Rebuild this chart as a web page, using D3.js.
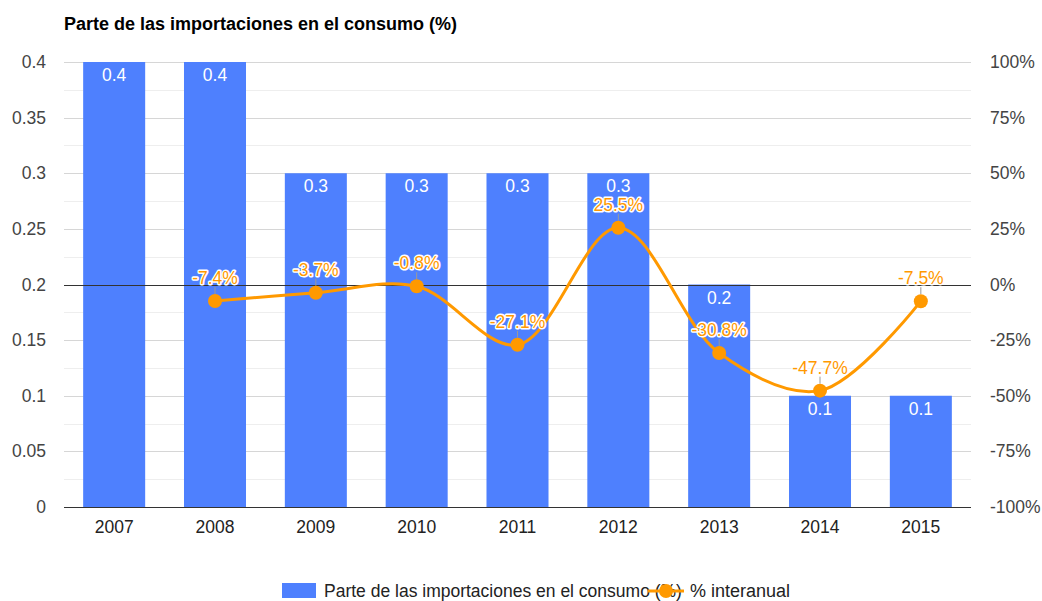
<!DOCTYPE html>
<html>
<head>
<meta charset="utf-8">
<script src="https://cdn.jsdelivr.net/npm/d3@7"></script>
<style>
  body { margin: 0; background: #fff; }
  text { font-family: Arial, "Liberation Sans", sans-serif; }
</style>
</head>
<body>
<div class="chart"></div>
<script>
// Parte de las importaciones en el consumo - bars + interannual % line
var years = ["2007", "2008", "2009", "2010", "2011", "2012", "2013", "2014", "2015"];
var share = [0.4, 0.4, 0.3, 0.3, 0.3, 0.3, 0.2, 0.1, 0.1];
var interanual = [null, -7.4, -3.7, -0.8, -27.1, 25.5, -30.8, -47.7, -7.5];
var leftTicks = [0, 0.05, 0.1, 0.15, 0.2, 0.25, 0.3, 0.35, 0.4];
var rightTicks = [-100, -75, -50, -25, 0, 25, 50, 75, 100];

var svgWidth = 1042;
var svgHeight = 601;
var margin = { top: 62, right: 71, bottom: 94, left: 64 };
var width = svgWidth - margin.left - margin.right;
var height = svgHeight - margin.top - margin.bottom;

var blue = "#4e80fe";
var orange = "#ff9900";
var fs = "17.5px";

var svg = d3.select(".chart")
  .append("svg")
  .attr("width", svgWidth)
  .attr("height", svgHeight);

svg.append("text")
  .attr("x", 64)
  .attr("y", 30)
  .style("font-size", "18px")
  .style("font-weight", "bold")
  .attr("fill", "#000")
  .text("Parte de las importaciones en el consumo (%)");

var chartGroup = svg.append("g")
  .attr("transform", `translate(${margin.left}, ${margin.top})`);

var x = d3.scaleBand().domain(years).range([0, width]).paddingInner(0.385).paddingOuter(0.19);
var yLeft = d3.scaleLinear().domain([0, 0.4]).range([height, 0]);
var yRight = d3.scaleLinear().domain([-100, 100]).range([height, 0]);

// minor gridlines
var minor = d3.range(0.025, 0.4, 0.05);
chartGroup.selectAll(".minor")
  .data(minor)
  .enter()
  .append("line")
  .attr("x1", 0).attr("x2", width)
  .attr("y1", d => Math.round(yLeft(d)) + 0.5)
  .attr("y2", d => Math.round(yLeft(d)) + 0.5)
  .attr("stroke", "#eeeeee");

// major gridlines
chartGroup.selectAll(".major")
  .data(leftTicks.slice(1))
  .enter()
  .append("line")
  .attr("x1", 0).attr("x2", width)
  .attr("y1", d => Math.round(yLeft(d)) + 0.5)
  .attr("y2", d => Math.round(yLeft(d)) + 0.5)
  .attr("stroke", "#d6d6d6");

// left axis labels
chartGroup.append("g")
  .call(d3.axisLeft(yLeft).tickValues(leftTicks).tickSize(0).tickPadding(18).tickFormat(d => d3.format("")(+d.toFixed(2))))
  .call(g => g.select(".domain").remove())
  .selectAll("text")
  .style("font-size", fs)
  .attr("fill", "#444");

// right axis labels
chartGroup.append("g")
  .attr("transform", `translate(${width}, 0)`)
  .call(d3.axisRight(yRight).tickValues(rightTicks).tickSize(0).tickPadding(19).tickFormat(d => d + "%"))
  .call(g => g.select(".domain").remove())
  .selectAll("text")
  .style("font-size", fs)
  .attr("fill", "#444");

// bars
chartGroup.selectAll(".bar")
  .data(years)
  .enter()
  .append("rect")
  .attr("x", d => x(d))
  .attr("width", x.bandwidth())
  .attr("y", (d, i) => yLeft(share[i]))
  .attr("height", (d, i) => height - yLeft(share[i]))
  .attr("fill", blue);

// bar labels
chartGroup.selectAll(".barLabel")
  .data(years)
  .enter()
  .append("text")
  .attr("x", d => x(d) + x.bandwidth() / 2)
  .attr("y", (d, i) => yLeft(share[i]) + 19)
  .attr("text-anchor", "middle")
  .style("font-size", fs)
  .attr("fill", "#fff")
  .text((d, i) => share[i]);

// baseline + zero line
chartGroup.append("line")
  .attr("x1", 0).attr("x2", width)
  .attr("y1", height + 0.5).attr("y2", height + 0.5)
  .attr("stroke", "#333");
chartGroup.append("line")
  .attr("x1", 0).attr("x2", width)
  .attr("y1", Math.round(yRight(0)) + 0.5).attr("y2", Math.round(yRight(0)) + 0.5)
  .attr("stroke", "#333");

// x axis labels
chartGroup.append("g")
  .attr("transform", `translate(0, ${height})`)
  .call(d3.axisBottom(x).tickSize(0).tickPadding(14))
  .call(g => g.select(".domain").remove())
  .selectAll("text")
  .style("font-size", fs)
  .attr("fill", "#222");

// line series
var pts = years.map((d, i) => ({ year: d, v: interanual[i] })).filter(d => d.v !== null);

var line = d3.line()
  .x(d => x(d.year) + x.bandwidth() / 2)
  .y(d => yRight(d.v))
  .curve(d3.curveCatmullRom.alpha(0.5));

chartGroup.append("path")
  .datum(pts)
  .attr("d", line)
  .attr("fill", "none")
  .attr("stroke", orange)
  .attr("stroke-width", 3);

// leader lines
chartGroup.selectAll(".leader")
  .data(pts)
  .enter()
  .append("line")
  .attr("x1", d => x(d.year) + x.bandwidth() / 2)
  .attr("x2", d => x(d.year) + x.bandwidth() / 2)
  .attr("y1", d => yRight(d.v) - 7)
  .attr("y2", d => yRight(d.v) - 14)
  .attr("stroke", "#999")
  .attr("stroke-width", 1);

chartGroup.selectAll(".dot")
  .data(pts)
  .enter()
  .append("circle")
  .attr("cx", d => x(d.year) + x.bandwidth() / 2)
  .attr("cy", d => yRight(d.v))
  .attr("r", 7)
  .attr("fill", orange);

// line labels with white halo
chartGroup.selectAll(".lineLabel")
  .data(pts)
  .enter()
  .append("text")
  .attr("x", d => x(d.year) + x.bandwidth() / 2)
  .attr("y", d => yRight(d.v) - 17)
  .attr("text-anchor", "middle")
  .style("font-size", fs)
  .attr("fill", orange)
  .attr("stroke", "#fff")
  .attr("stroke-width", 3)
  .attr("paint-order", "stroke")
  .attr("stroke-linejoin", "round")
  .text(d => d.v.toFixed(1) + "%");

// legend
var legend = svg.append("g");
legend.append("rect")
  .attr("x", 282).attr("y", 583)
  .attr("width", 34).attr("height", 15)
  .attr("fill", blue);
legend.append("text")
  .attr("x", 324).attr("y", 597)
  .style("font-size", fs)
  .attr("fill", "#222")
  .text("Parte de las importaciones en el consumo (%)");
legend.append("line")
  .attr("x1", 648).attr("x2", 684)
  .attr("y1", 591).attr("y2", 591)
  .attr("stroke", orange)
  .attr("stroke-width", 3);
legend.append("circle")
  .attr("cx", 666).attr("cy", 591)
  .attr("r", 7)
  .attr("fill", orange);
legend.append("text")
  .attr("x", 690).attr("y", 597)
  .style("font-size", "18px")
  .attr("fill", "#222")
  .text("% interanual");
</script>
</body>
</html>
